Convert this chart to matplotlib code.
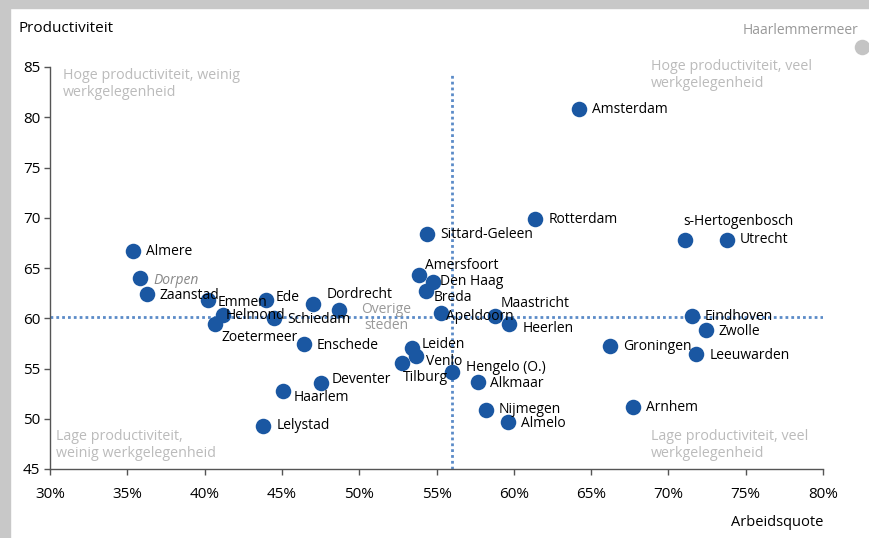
import matplotlib
matplotlib.use("Agg")
import matplotlib.pyplot as plt
from matplotlib.patches import Rectangle
from matplotlib.ticker import FuncFormatter

plt.rcParams['font.family'] = ['Open Sans', 'DejaVu Sans']

# City data: labour participation (%) and productivity index
cities = ["Amsterdam", "Rotterdam", "s-Hertogenbosch", "Utrecht", "Sittard-Geleen",
          "Almere", "Zaanstad", "Emmen", "Helmond", "Zoetermeer", "Ede", "Schiedam",
          "Dordrecht", "Enschede", "Deventer", "Haarlem", "Lelystad", "Amersfoort",
          "Den Haag", "Breda", "Apeldoorn", "Maastricht", "Heerlen", "Leiden", "Venlo",
          "Tilburg", "Hengelo (O.)", "Alkmaar", "Eindhoven", "Zwolle", "Groningen",
          "Leeuwarden", "Nijmegen", "Almelo", "Arnhem"]
arbeidsquote = [64.2, 61.4, 71.1, 73.8, 54.4,
                35.4, 36.3, 40.2, 41.2, 40.7, 44.0, 44.5,
                47.0, 46.4, 47.5, 45.1, 43.8, 53.9,
                54.8, 54.3, 55.3, 58.8, 59.7, 53.4, 53.7,
                52.8, 56.0, 57.7, 71.5, 72.4, 66.2,
                71.8, 58.2, 59.6, 67.7]
productiviteit = [80.8, 69.9, 67.8, 67.8, 68.4,
                  66.7, 62.4, 61.8, 60.3, 59.4, 61.8, 60.0,
                  61.4, 57.4, 53.6, 52.8, 49.3, 64.3,
                  63.6, 62.7, 60.5, 60.2, 59.4, 57.0, 56.2,
                  55.5, 54.7, 53.7, 60.2, 58.8, 57.2,
                  56.4, 50.9, 49.7, 51.2]

# Group averages
dorpen = (35.8, 64.0)
overige_steden = (48.7, 60.8)
haarlemmermeer = (82.5, 87.0)

# Reference lines (averages)
gem_arbeidsquote = 56.0
gem_productiviteit = 60.1

x_ticks = [30, 35, 40, 45, 50, 55, 60, 65, 70, 75, 80]
y_ticks = [45, 50, 55, 60, 65, 70, 75, 80, 85]

# Label offsets in pixels (dx, dy upward)
label_offsets = {
    "Amsterdam": (13, 0), "Rotterdam": (13, -1), "s-Hertogenbosch": (-2, 18),
    "Utrecht": (13, 0), "Sittard-Geleen": (13, -1), "Almere": (13, -1),
    "Zaanstad": (12, -1), "Emmen": (10, -2), "Helmond": (2, 0),
    "Zoetermeer": (6, -13), "Ede": (9, 3), "Schiedam": (13, -1),
    "Dordrecht": (14, 10), "Enschede": (13, -1), "Deventer": (11, 3),
    "Haarlem": (10, -7), "Lelystad": (13, 0), "Amersfoort": (6, 10),
    "Den Haag": (7, 1), "Breda": (8, -6), "Apeldoorn": (5, -3),
    "Maastricht": (5, 13), "Heerlen": (13, -4), "Leiden": (10, 4),
    "Venlo": (10, -5), "Tilburg": (0, -14), "Hengelo (O.)": (14, 4),
    "Alkmaar": (12, -2), "Eindhoven": (13, 0), "Zwolle": (13, -1),
    "Groningen": (13, 0), "Leeuwarden": (13, -1), "Nijmegen": (13, 0),
    "Almelo": (13, -2), "Arnhem": (13, -1),
}

W, H, DPI = 869, 538, 100
fig = plt.figure(figsize=(W / DPI, H / DPI), dpi=DPI)
fig.patch.set_facecolor("white")

# Grey frame strips along the top and left edge
fig.patches.append(Rectangle((0, 1 - 8 / H), 1, 8 / H, transform=fig.transFigure,
                             color="#c8c8c8", zorder=0))
fig.patches.append(Rectangle((0, 0), 10 / W, 1, transform=fig.transFigure,
                             color="#c8c8c8", zorder=0))

ax = fig.add_axes([50 / W, 1 - 469 / H, (823 - 50) / W, (469 - 67) / H])
ax.set_xlim(30, 80)
ax.set_ylim(45, 85)

for side in ("top", "right"):
    ax.spines[side].set_visible(False)
for side in ("left", "bottom"):
    ax.spines[side].set_color("#555555")
    ax.spines[side].set_linewidth(1.0)

ax.set_xticks(x_ticks)
ax.set_yticks(y_ticks)
ax.xaxis.set_major_formatter(FuncFormatter(lambda v, p: f"{v:.0f}%"))
ax.tick_params(axis="both", colors="#555555", labelcolor="black", labelsize=11,
               length=4, width=1.0, direction="out")
ax.tick_params(axis="x", pad=9)
ax.tick_params(axis="y", pad=3)

line_col = "#5b8bc8"
ax.plot([gem_arbeidsquote, gem_arbeidsquote], [45, 84.3], color=line_col,
        linestyle=(0, (1, 1.1)), linewidth=2.0, zorder=1, clip_on=False)
ax.plot([30, 80], [gem_productiviteit, gem_productiviteit], color=line_col,
        linestyle=(0, (1, 1.1)), linewidth=2.0, zorder=1)

blue = "#1a57a2"
ax.scatter(arbeidsquote, productiviteit, s=125, color=blue, zorder=3, linewidths=0)
ax.scatter([dorpen[0]], [dorpen[1]], s=125, color=blue, zorder=3, linewidths=0)
ax.scatter([overige_steden[0]], [overige_steden[1]], s=125, color=blue, zorder=3,
           linewidths=0)
ax.scatter([haarlemmermeer[0]], [haarlemmermeer[1]], s=125, color="#c4c4c4",
           zorder=3, linewidths=0, clip_on=False)

for name, xv, yv in zip(cities, arbeidsquote, productiviteit):
    dx, dy = label_offsets[name]
    ax.annotate(name, (xv, yv), xytext=(dx, dy), textcoords="offset pixels",
                ha="left", va="center", fontsize=10, color="black", zorder=4,
                annotation_clip=False)

ax.annotate("Dorpen", dorpen, xytext=(14, -2), textcoords="offset pixels",
            ha="left", va="center", fontsize=10, color="#888888", style="italic",
            zorder=4)
ax.annotate("Overige\nsteden", overige_steden, xytext=(47, -7),
            textcoords="offset pixels", ha="center", va="center", fontsize=10,
            color="#999999", linespacing=1.1, zorder=4)
ax.annotate("Haarlemmermeer", haarlemmermeer, xytext=(-3, 16),
            textcoords="offset pixels", ha="right", va="center", fontsize=10,
            color="#999999", zorder=4, annotation_clip=False)

quad_col = "#bbbbbb"
quad_kw = dict(fontsize=10.3, color=quad_col, ha="left", va="top", linespacing=1.15,
               transform=fig.transFigure)
fig.text(63 / W, 1 - 68 / H, "Hoge productiviteit, weinig\nwerkgelegenheid", **quad_kw)
fig.text(651 / W, 1 - 59 / H, "Hoge productiviteit, veel\nwerkgelegenheid", **quad_kw)
fig.text(56 / W, 1 - 429 / H, "Lage productiviteit,\nweinig werkgelegenheid", **quad_kw)
fig.text(651 / W, 1 - 429 / H, "Lage productiviteit, veel\nwerkgelegenheid", **quad_kw)

fig.text(18 / W, 1 - 29 / H, "Productiviteit", fontsize=11, color="black",
         ha="left", va="center")
fig.text(823 / W, 1 - 522 / H, "Arbeidsquote", fontsize=10.5, color="black",
         ha="right", va="center")

fig.savefig("out.png", dpi=DPI)
